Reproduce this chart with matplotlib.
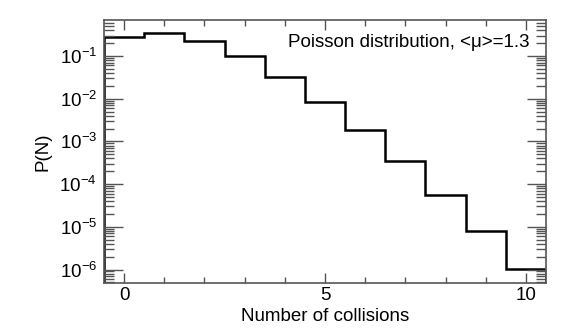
import matplotlib
matplotlib.use("Agg")
import matplotlib.pyplot as plt
from matplotlib.ticker import LogLocator, MultipleLocator, FixedLocator, NullFormatter

plt.rcParams['font.family'] = ['Liberation Sans', 'DejaVu Sans']

# P(N) for Poisson, <mu>=1.3
n_collisions = [0, 1, 2, 3, 4, 5, 6, 7, 8, 9, 10]
prob = [0.2725, 0.354, 0.230, 0.0997, 0.0324, 0.00843, 0.00183,
        0.000339, 5.5e-5, 7.96e-6, 1.03e-6]

edges = [n - 0.5 for n in n_collisions] + [n_collisions[-1] + 0.5]

fig = plt.figure(figsize=(5.81, 3.34), dpi=100)
ax = fig.add_axes([104/581, 1 - 283/334, (546-104)/581, (283-20)/334])

ax.stairs(prob, edges, color='black', linewidth=1.8)

ax.set_yscale('log')
ax.set_xlim(-0.5, 10.5)
ax.set_ylim(4.83e-7, 0.697)

ax.xaxis.set_major_locator(FixedLocator([0, 5, 10]))
ax.xaxis.set_minor_locator(MultipleLocator(1))
ax.yaxis.set_major_locator(LogLocator(base=10, numticks=20))
ax.yaxis.set_minor_locator(LogLocator(base=10, subs=range(2, 10), numticks=20))
ax.yaxis.set_minor_formatter(NullFormatter())

ax.tick_params(which='both', direction='in', top=True, right=True,
               color='#555555', labelsize=13.5)
ax.tick_params(axis='y', which='major', length=14, width=1, pad=5)
ax.tick_params(axis='y', which='minor', length=7, width=1)
ax.tick_params(axis='x', which='major', length=7, width=1, pad=3)
ax.tick_params(axis='x', which='minor', length=4, width=1)
for s in ax.spines.values():
    s.set_color('#555555')
    s.set_linewidth(1.2)

ax.set_xlabel('Number of collisions', fontsize=13.5, labelpad=3)
ax.set_ylabel('P(N)', fontsize=13.5, labelpad=6)

ax.text(0.963, 0.915, 'Poisson distribution, <\u03bc>=1.3', transform=ax.transAxes,
        ha='right', va='center', fontsize=13.5)

fig.savefig('out.png', dpi=100)
